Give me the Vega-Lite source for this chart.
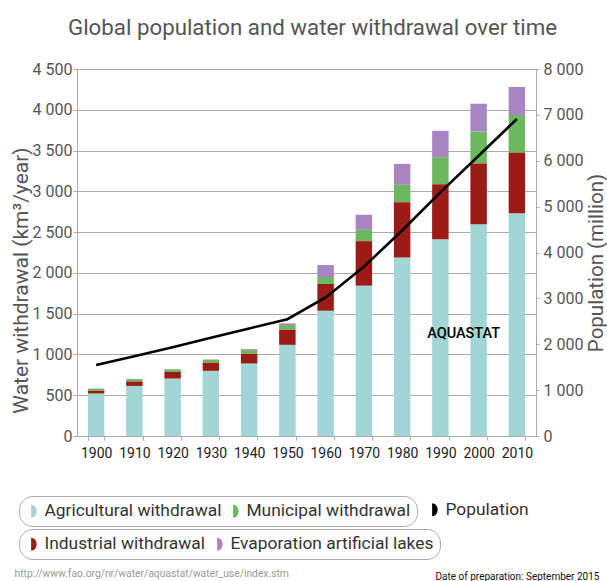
{
  "$schema": "https://vega.github.io/schema/vega-lite/v6.json",
  "width": 459,
  "height": 367,
  "autosize": {"type": "none"},
  "padding": {"left": 77, "top": 69, "right": 71, "bottom": 145},
  "background": "white",
  "title": {
    "text": "Global population and water withdrawal over time",
    "font": "Roboto",
    "fontSize": 22.3,
    "fontWeight": "normal",
    "color": "#555555",
    "anchor": "middle",
    "frame": "group",
    "baseline": "alphabetic",
    "dx": 6,
    "offset": 4
  },
  "config": {"font": "Roboto", "view": {"stroke": null}},
  "datasets": {
    "water": [
      {"year": "1900", "type": "Agricultural withdrawal", "order": 1, "km3": 521},
      {"year": "1900", "type": "Industrial withdrawal", "order": 2, "km3": 32},
      {"year": "1900", "type": "Municipal withdrawal", "order": 3, "km3": 26},
      {"year": "1900", "type": "Evaporation artificial lakes", "order": 4, "km3": 3},
      {"year": "1910", "type": "Agricultural withdrawal", "order": 1, "km3": 614},
      {"year": "1910", "type": "Industrial withdrawal", "order": 2, "km3": 54},
      {"year": "1910", "type": "Municipal withdrawal", "order": 3, "km3": 29},
      {"year": "1910", "type": "Evaporation artificial lakes", "order": 4, "km3": 3},
      {"year": "1920", "type": "Agricultural withdrawal", "order": 1, "km3": 705},
      {"year": "1920", "type": "Industrial withdrawal", "order": 2, "km3": 81},
      {"year": "1920", "type": "Municipal withdrawal", "order": 3, "km3": 31},
      {"year": "1920", "type": "Evaporation artificial lakes", "order": 4, "km3": 3},
      {"year": "1930", "type": "Agricultural withdrawal", "order": 1, "km3": 799},
      {"year": "1930", "type": "Industrial withdrawal", "order": 2, "km3": 98},
      {"year": "1930", "type": "Municipal withdrawal", "order": 3, "km3": 38},
      {"year": "1930", "type": "Evaporation artificial lakes", "order": 4, "km3": 4},
      {"year": "1940", "type": "Agricultural withdrawal", "order": 1, "km3": 889},
      {"year": "1940", "type": "Industrial withdrawal", "order": 2, "km3": 118},
      {"year": "1940", "type": "Municipal withdrawal", "order": 3, "km3": 46},
      {"year": "1940", "type": "Evaporation artificial lakes", "order": 4, "km3": 12},
      {"year": "1950", "type": "Agricultural withdrawal", "order": 1, "km3": 1118},
      {"year": "1950", "type": "Industrial withdrawal", "order": 2, "km3": 184},
      {"year": "1950", "type": "Municipal withdrawal", "order": 3, "km3": 58},
      {"year": "1950", "type": "Evaporation artificial lakes", "order": 4, "km3": 21},
      {"year": "1960", "type": "Agricultural withdrawal", "order": 1, "km3": 1537},
      {"year": "1960", "type": "Industrial withdrawal", "order": 2, "km3": 328},
      {"year": "1960", "type": "Municipal withdrawal", "order": 3, "km3": 86},
      {"year": "1960", "type": "Evaporation artificial lakes", "order": 4, "km3": 147},
      {"year": "1970", "type": "Agricultural withdrawal", "order": 1, "km3": 1844},
      {"year": "1970", "type": "Industrial withdrawal", "order": 2, "km3": 545},
      {"year": "1970", "type": "Municipal withdrawal", "order": 3, "km3": 139},
      {"year": "1970", "type": "Evaporation artificial lakes", "order": 4, "km3": 184},
      {"year": "1980", "type": "Agricultural withdrawal", "order": 1, "km3": 2188},
      {"year": "1980", "type": "Industrial withdrawal", "order": 2, "km3": 679},
      {"year": "1980", "type": "Municipal withdrawal", "order": 3, "km3": 213},
      {"year": "1980", "type": "Evaporation artificial lakes", "order": 4, "km3": 257},
      {"year": "1990", "type": "Agricultural withdrawal", "order": 1, "km3": 2413},
      {"year": "1990", "type": "Industrial withdrawal", "order": 2, "km3": 675},
      {"year": "1990", "type": "Municipal withdrawal", "order": 3, "km3": 331},
      {"year": "1990", "type": "Evaporation artificial lakes", "order": 4, "km3": 323},
      {"year": "2000", "type": "Agricultural withdrawal", "order": 1, "km3": 2597},
      {"year": "2000", "type": "Industrial withdrawal", "order": 2, "km3": 744},
      {"year": "2000", "type": "Municipal withdrawal", "order": 3, "km3": 393},
      {"year": "2000", "type": "Evaporation artificial lakes", "order": 4, "km3": 340},
      {"year": "2010", "type": "Agricultural withdrawal", "order": 1, "km3": 2732},
      {"year": "2010", "type": "Industrial withdrawal", "order": 2, "km3": 740},
      {"year": "2010", "type": "Municipal withdrawal", "order": 3, "km3": 463},
      {"year": "2010", "type": "Evaporation artificial lakes", "order": 4, "km3": 344}
    ],
    "pop": [
      {"year": "1900", "population": 1550},
      {"year": "1910", "population": 1740},
      {"year": "1920", "population": 1935},
      {"year": "1930", "population": 2140},
      {"year": "1940", "population": 2345},
      {"year": "1950", "population": 2545},
      {"year": "1960", "population": 3020},
      {"year": "1970", "population": 3690},
      {"year": "1980", "population": 4480},
      {"year": "1990", "population": 5310},
      {"year": "2000", "population": 6110},
      {"year": "2010", "population": 6910}
    ],
    "label": [
      {"year": "2000", "km3": 1200, "label": "AQUASTAT"}
    ]
  },
  "layer": [
    {
      "data": {"name": "water"},
      "transform": [
        {"stack": "km3", "groupby": ["year"], "sort": [{"field": "order", "order": "ascending"}], "as": ["y0", "y1"]},
        {"filter": {"field": "type", "oneOf": ["Agricultural withdrawal", "Municipal withdrawal"]}}
      ],
      "mark": {"type": "bar"},
      "encoding": {
        "x": {
          "field": "year", "type": "ordinal",
          "scale": {"paddingInner": 0.57, "paddingOuter": 0.285},
          "axis": {
            "title": "http://www.fao.org/nr/water/aquastat/water_use/index.stm",
            "titleX": -63, "titleY": 140, "titleAlign": "left", "titleBaseline": "alphabetic",
            "titleFont": "Roboto", "titleFontSize": 10.3, "titleFontWeight": "normal", "titleColor": "#999999",
            "labelAngle": 0, "labelFont": "Roboto", "labelFontSize": 14, "labelColor": "#222222", "labelPadding": 6,
            "tickBand": "extent", "tickSize": 4, "tickColor": "#aaaaaa", "domainColor": "#aaaaaa", "grid": false
          }
        },
        "y": {
          "field": "y1", "type": "quantitative",
          "scale": {"domain": [0, 4500]},
          "axis": {
            "title": "Water withdrawal (km³/year)",
            "values": [0, 500, 1000, 1500, 2000, 2500, 3000, 3500, 4000, 4500],
            "labelExpr": "replace(format(datum.value, ','), ',', ' ')",
            "labelFont": "Roboto", "labelFontSize": 16, "labelColor": "#555555", "labelPadding": 1,
            "tickSize": 4, "tickColor": "#aaaaaa", "domainColor": "#aaaaaa",
            "grid": true, "gridColor": "#aaaaaa",
            "titleFont": "Roboto", "titleFontSize": 21, "titleFontWeight": "normal", "titleColor": "#555555",
            "titleX": -50, "titleY": 211, "titleAlign": "center", "titleBaseline": "alphabetic", "titleAngle": 270
          }
        },
        "y2": {"field": "y0"},
        "color": {
          "field": "type", "type": "nominal",
          "scale": {"domain": ["Agricultural withdrawal", "Municipal withdrawal"], "range": ["#a2d6d6", "#6cb85f"]},
          "legend": {
            "title": null, "orient": "none", "legendX": -58, "legendY": 427, "direction": "horizontal",
            "symbolType": "M -0.4,-1 A 0.85,1 0 0 1 -0.4,1 Z", "symbolSize": 169, "symbolStrokeWidth": 0,
            "labelFont": "Roboto", "labelFontSize": 17.4, "labelColor": "#333333", "labelOffset": 2, "labelLimit": 0,
            "columnPadding": 5, "padding": 6, "strokeColor": "#aaaaaa", "cornerRadius": 13.5, "fillColor": "white"
          }
        }
      }
    },
    {
      "data": {"name": "water"},
      "transform": [
        {"stack": "km3", "groupby": ["year"], "sort": [{"field": "order", "order": "ascending"}], "as": ["y0", "y1"]},
        {"filter": {"field": "type", "oneOf": ["Industrial withdrawal", "Evaporation artificial lakes"]}}
      ],
      "mark": {"type": "bar"},
      "encoding": {
        "x": {"field": "year", "type": "ordinal", "axis": null},
        "y": {"field": "y1", "type": "quantitative", "scale": {"domain": [0, 4500]}, "axis": null},
        "y2": {"field": "y0"},
        "color": {
          "field": "type", "type": "nominal",
          "scale": {"domain": ["Industrial withdrawal", "Evaporation artificial lakes"], "range": ["#9b1b16", "#a884c0"]},
          "legend": {
            "title": null, "orient": "none", "legendX": -58, "legendY": 460, "direction": "horizontal",
            "symbolType": "M -0.4,-1 A 0.85,1 0 0 1 -0.4,1 Z", "symbolSize": 169, "symbolStrokeWidth": 0,
            "labelFont": "Roboto", "labelFontSize": 17.4, "labelColor": "#333333", "labelOffset": 2, "labelLimit": 0,
            "columnPadding": 5, "padding": 6, "strokeColor": "#aaaaaa", "cornerRadius": 13.5, "fillColor": "white"
          }
        }
      }
    },
    {
      "data": {"name": "label"},
      "mark": {"type": "text", "font": "Roboto", "fontSize": 14.5, "fontWeight": 500, "color": "black", "dx": -15, "baseline": "alphabetic"},
      "encoding": {
        "x": {"field": "year", "type": "ordinal", "axis": null},
        "y": {"field": "km3", "type": "quantitative", "scale": {"domain": [0, 4500]}, "axis": null},
        "text": {"field": "label"}
      }
    },
    {
      "data": {"name": "pop"},
      "mark": {"type": "line", "strokeWidth": 2.6},
      "encoding": {
        "x": {
          "field": "year", "type": "ordinal",
          "axis": {
            "orient": "top", "labels": false, "ticks": false, "domain": false, "grid": false,
            "title": "Date of preparation: September 2015",
            "titleX": 358, "titleY": 510, "titleAlign": "left", "titleBaseline": "alphabetic", "titleAngle": 0,
            "titleFont": "Roboto", "titleFontSize": 10, "titleFontWeight": "normal", "titleColor": "#111111"
          }
        },
        "y": {
          "field": "population", "type": "quantitative",
          "scale": {"domain": [0, 8000]},
          "axis": {
            "orient": "right",
            "title": "Population (million)",
            "values": [0, 1000, 2000, 3000, 4000, 5000, 6000, 7000, 8000],
            "labelExpr": "replace(format(datum.value, ','), ',', ' ')",
            "labelFont": "Roboto", "labelFontSize": 16, "labelColor": "#555555", "labelPadding": 4,
            "tickSize": 3, "tickColor": "#aaaaaa", "domainColor": "#aaaaaa", "grid": false,
            "titleFont": "Roboto", "titleFontSize": 20.5, "titleFontWeight": "normal", "titleColor": "#555555",
            "titleX": 66.7, "titleY": 193.5, "titleAlign": "center", "titleBaseline": "alphabetic", "titleAngle": 270
          }
        },
        "color": {
          "datum": "Population",
          "scale": {"range": ["black"]},
          "legend": {
            "title": null, "orient": "none", "legendX": 349, "legendY": 432, "direction": "horizontal",
            "symbolType": "M -0.4,-1 A 0.85,1 0 0 1 -0.4,1 Z", "symbolSize": 169, "symbolStrokeWidth": 0,
            "symbolFillColor": "black",
            "labelFont": "Roboto", "labelFontSize": 17.4, "labelColor": "#333333", "labelOffset": 2, "labelLimit": 0,
            "padding": 0
          }
        }
      }
    }
  ],
  "resolve": {"scale": {"y": "independent", "color": "independent"}, "axis": {"x": "independent"}}
}
